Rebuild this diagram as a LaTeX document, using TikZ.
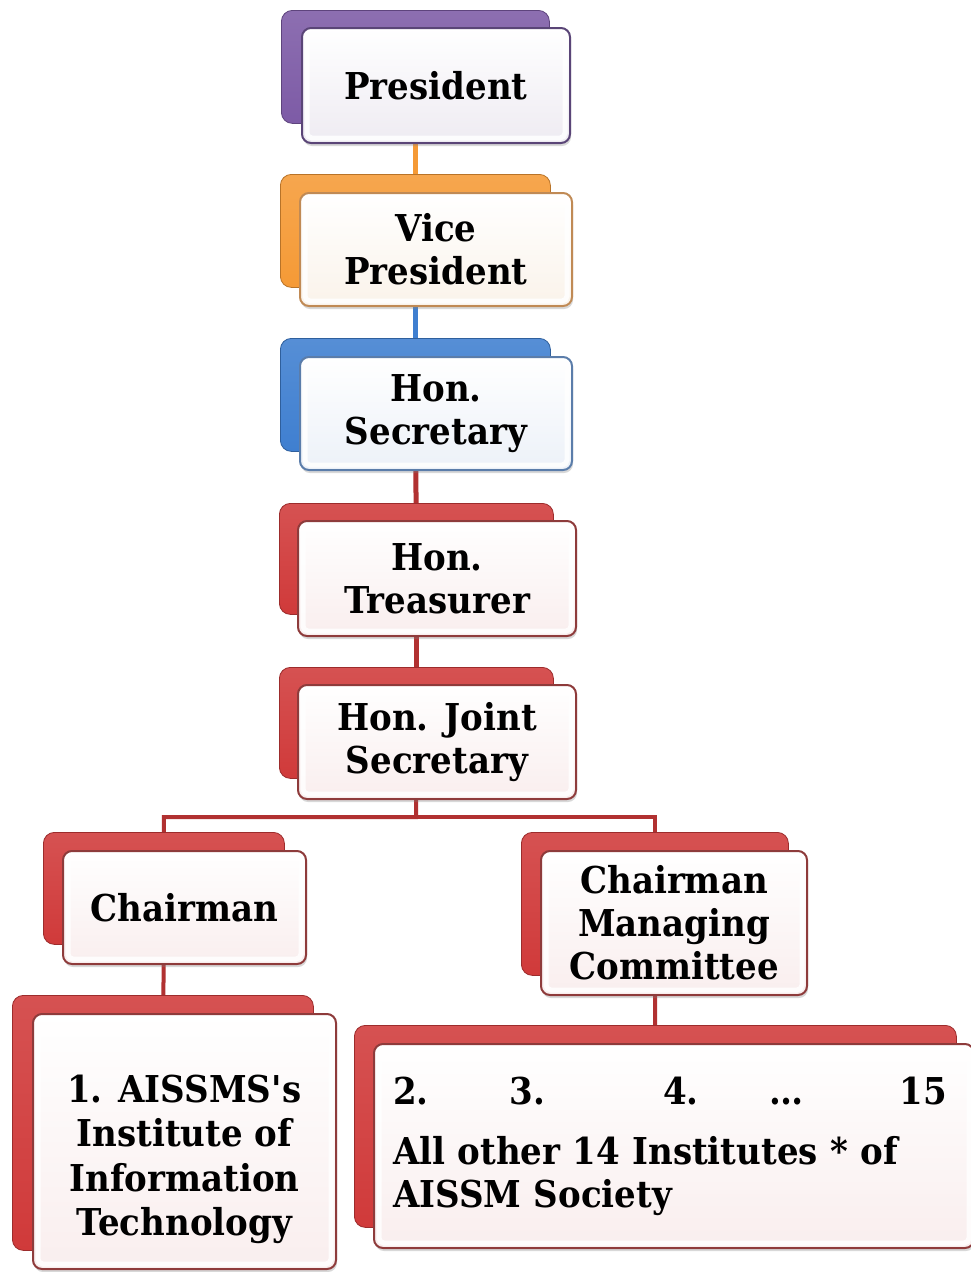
\documentclass[tikz,border=0pt]{standalone}
\usepackage{fontspec}
\setmainfont{DejaVu Serif}[FakeStretch=0.92]
\usetikzlibrary{shadows}
\pgfdeclarelayer{bottom}
\pgfdeclarelayer{background}
\pgfsetlayers{bottom,background,main}
\definecolor{pur}{HTML}{7D5BA6}
\definecolor{purB}{HTML}{5A4577}
\definecolor{purT}{HTML}{EEEBF2}
\definecolor{org}{HTML}{F59A36}
\definecolor{orgB}{HTML}{C08A55}
\definecolor{orgT}{HTML}{FAF3EA}
\definecolor{blu}{HTML}{3F7FD0}
\definecolor{bluB}{HTML}{5B7DAA}
\definecolor{bluT}{HTML}{ECF1F8}
\definecolor{rd}{HTML}{D03A3A}
\definecolor{rdB}{HTML}{8E3B3B}
\definecolor{rdT}{HTML}{F9EEEE}
\tikzset{
  backbox/.style={draw=#1!75!black, line width=0.8pt, top color=#1!88!white, bottom color=#1,
    rounded corners=11pt, anchor=north west, inner sep=0pt},
  frontbox/.style 2 args={draw=#1, line width=2pt, top color=white, bottom color=#2,
    rounded corners=9pt, anchor=north west, inner sep=0pt, align=center,
    font=\fontsize{37}{43}\selectfont\bfseries,
    drop shadow={opacity=0.3, shadow xshift=1pt, shadow yshift=-3pt},
    path picture={\draw[white, line width=5pt, rounded corners=5pt, opacity=0.85]
      ([shift={(5pt,-5pt)}]path picture bounding box.north west) rectangle
      ([shift={(-5pt,5pt)}]path picture bounding box.south east);}},
  conn/.style={draw=#1, line width=5pt},
}
\begin{document}
\begin{tikzpicture}[x=1pt,y=-1pt]
\useasboundingbox (0,0) rectangle (971,1272);
\begin{pgfonlayer}{bottom}
\fill[white] (0,0) rectangle (971,1272);
\end{pgfonlayer}
% President
\node[backbox=pur, minimum width=268pt, minimum height=113pt] (b1) at (281,10) {};
\node[frontbox={purB}{purT}, minimum width=268pt, minimum height=115pt] (f1) at (301,27) {President};
% Vice President
\node[backbox=org, minimum width=270pt, minimum height=113pt] (b2) at (280,174) {};
\node[frontbox={orgB}{orgT}, minimum width=272pt, minimum height=113pt] (f2) at (299,192) {Vice\\President};
% Hon. Secretary
\node[backbox=blu, minimum width=270pt, minimum height=113pt] (b3) at (280,338) {};
\node[frontbox={bluB}{bluT}, minimum width=272pt, minimum height=113pt] (f3) at (299,356) {Hon.\\Secretary};
% Hon. Treasurer
\node[backbox=rd, minimum width=274pt, minimum height=111pt] (b4) at (279,503) {};
\node[frontbox={rdB}{rdT}, minimum width=278pt, minimum height=115pt] (f4) at (297,520) {Hon.\\Treasurer};
% Hon. Joint Secretary
\node[backbox=rd, minimum width=274pt, minimum height=111pt] (b5) at (279,667) {};
\node[frontbox={rdB}{rdT}, minimum width=278pt, minimum height=114pt] (f5) at (297,684) {Hon. Joint\\Secretary};
% Chairman
\node[backbox=rd, minimum width=241pt, minimum height=112pt] (b6) at (43,832) {};
\node[frontbox={rdB}{rdT}, minimum width=243pt, minimum height=113pt] (f6) at (62,850) {Chairman};
% Chairman Managing Committee
\node[backbox=rd, minimum width=267pt, minimum height=143pt] (b7) at (521,832) {};
\node[frontbox={rdB}{rdT}, minimum width=266pt, minimum height=144pt] (f7) at (540,850) {Chairman\\Managing\\Committee};
% Institute 1
\node[backbox=rd, minimum width=301pt, minimum height=255pt] (b8) at (12,995) {};
\node[frontbox={rdB}{rdT}, minimum width=303pt, minimum height=255pt, font=\fontsize{37}{44.5}\selectfont\bfseries] (f8) at (32,1013)
  {\parbox{300pt}{\centering\vspace*{36pt}1. AISSMS\textquotesingle s\\Institute of\\Information\\Technology}};
% Institutes 2..15
\node[backbox=rd, minimum width=602pt, minimum height=202pt] (b9) at (354,1025) {};
\node[frontbox={rdB}{rdT}, minimum width=600pt, minimum height=204pt, align=left, text width=562pt] (f9) at (373,1043)
  {\rlap{2.}\hspace{117pt}\rlap{3.}\hspace{153pt}\rlap{4.}\hspace{107pt}\rlap{\ldots}\hspace{130pt}\rlap{15}\\[17pt]
   All other 14 Institutes * of\\AISSM Society};
% connectors
\coordinate (j) at (416,817);
\begin{pgfonlayer}{background}
\draw[conn=org] (b1) -- (b2);
\draw[conn=blu] (b2) -- (b3);
\draw[conn=rd!85!black] (b3) -- (b4);
\draw[conn=rd!85!black] (b4) -- (b5);
\draw[conn=rd!85!black, line width=4pt] (b5) -- (j) -| (b6);
\draw[conn=rd!85!black, line width=4pt] (j) -| (b7);
\draw[conn=rd!85!black, line width=4pt] (b6) -- (b8);
\draw[conn=rd!85!black, line width=4pt] (b7) -- (b9);
\end{pgfonlayer}
\end{tikzpicture}
\end{document}
